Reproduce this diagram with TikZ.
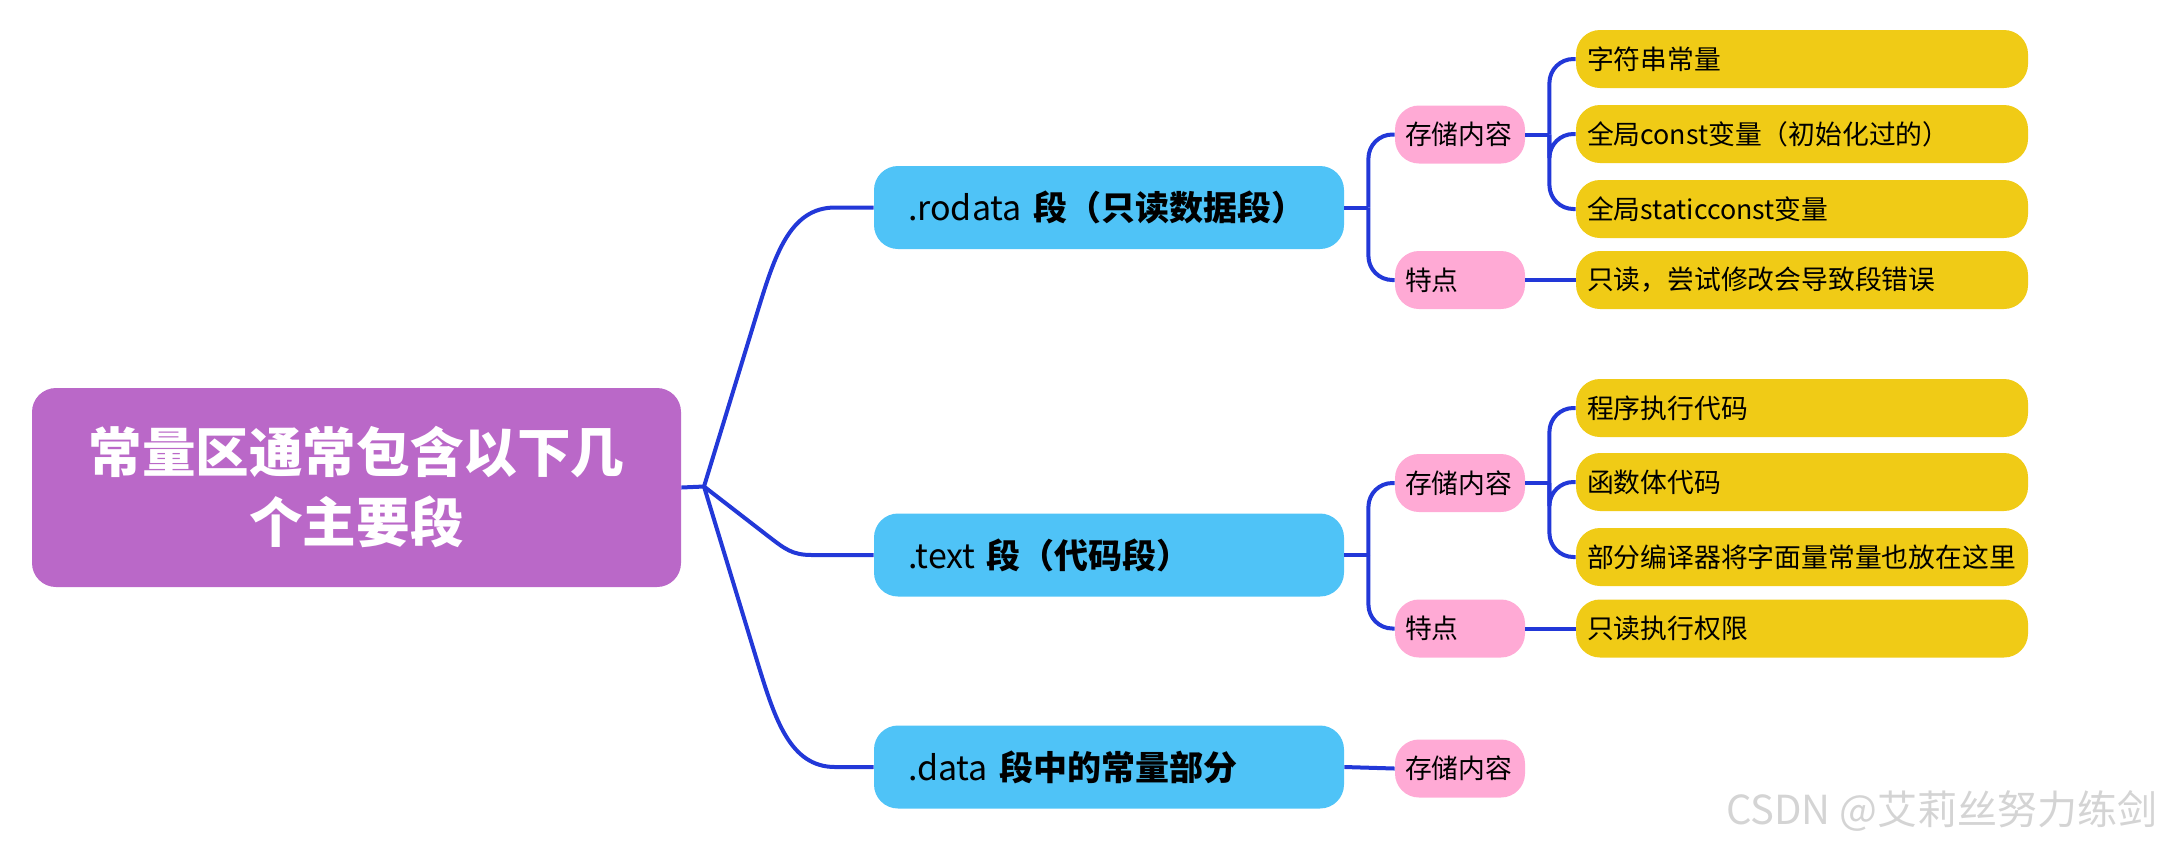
\documentclass[tikz,border=0pt]{standalone}
\usepackage{fontspec}
\setmainfont{Noto Sans CJK SC}
\usetikzlibrary{calc}
\definecolor{rootc}{HTML}{BA68C8}
\definecolor{l1c}{HTML}{4FC3F7}
\definecolor{l2c}{HTML}{FFAAD5}
\definecolor{l3c}{HTML}{F0CB16}
\definecolor{linec}{HTML}{2238D8}
\definecolor{wm}{HTML}{D4D4D4}
\tikzset{
  rootbox/.style={fill=rootc, rounded corners=12, minimum width=324.5pt, minimum height=99.5pt,
    text width=300pt, align=center, text=white, font=\fontsize{26.8}{35}\selectfont\bfseries, inner sep=0pt},
  lonebox/.style={fill=l1c, rounded corners=12, minimum width=235pt, minimum height=41.5pt,
    inner xsep=17pt, text width=201pt, align=left, font=\fontsize{17}{20}\selectfont\bfseries, inner ysep=0pt},
  ltwobox/.style={fill=l2c, rounded corners=12, minimum width=65pt, minimum height=29pt,
    inner xsep=5pt, text width=55pt, align=left, font=\fontsize{13.4}{16}\selectfont, inner ysep=0pt},
  lthreebox/.style={fill=l3c, rounded corners=12, minimum width=226pt, minimum height=29pt,
    inner xsep=5.5pt, text width=215pt, align=left, font=\fontsize{13.4}{16}\selectfont, inner ysep=0pt},
  conn/.style={draw=linec, line width=2pt, rounded corners=12},
}
\newcommand{\branch}[2]{\draw[conn] (#2.west) -| ($(#1.east)+(12pt,0)$);}
\begin{document}
\begin{tikzpicture}[x=0.5pt,y=-0.5pt]
\useasboundingbox (0,0) rectangle (2166,848);
% root
\node[rootbox] (root) at (356.5,487.5) {常量区通常包含以下几\\个主要段};
\coordinate (j) at (704,486.5);
% level 1
\node[lonebox] (ro) at (1109,207.5) {{\mdseries .rodata} 段（只读数据段）};
\node[lonebox] (tx) at (1109,555) {{\mdseries .text} 段（代码段）};
\node[lonebox] (da) at (1109,767) {{\mdseries .data} 段中的常量部分};
% level 2
\node[ltwobox] (ros) at (1460,134.5) {存储内容};
\node[ltwobox] (rot) at (1460,280) {特点};
\node[ltwobox] (txs) at (1460,483) {存储内容};
\node[ltwobox] (txt) at (1460,628.5) {特点};
\node[ltwobox] (das) at (1460,768.5) {存储内容};
% level 3
\node[lthreebox] (r1) at (1802,59) {字符串常量};
\node[lthreebox] (r2) at (1802,134) {全局const变量（初始化过的）};
\node[lthreebox] (r3) at (1802,209) {全局staticconst变量};
\node[lthreebox] (r4) at (1802,280) {只读，尝试修改会导致段错误};
\node[lthreebox] (t1) at (1802,408) {程序执行代码};
\node[lthreebox] (t2) at (1802,482) {函数体代码};
\node[lthreebox] (t3) at (1802,557) {部分编译器将字面量常量也放在这里};
\node[lthreebox] (t4) at (1802,628.5) {只读执行权限};
% watermark
\node[anchor=east, text=wm, font=\fontsize{20}{24}\selectfont, inner sep=0pt] (wmk) at (2158,811) {CSDN @艾莉丝努力练剑};
% root connectors
\draw[conn] (root.east) -- (j);
\draw[conn, rounded corners=0] (j) -- (758,310) .. controls (775,255) and (790,207.5) .. (835,207.5) -- (ro.west);
\draw[conn, rounded corners=0] (j) -- (768,536) .. controls (785,549) and (792,555) .. (812,555) -- (tx.west);
\draw[conn, rounded corners=0] (j) -- (758,664) .. controls (775,719) and (790,767) .. (835,767) -- (da.west);
% level1 -> level2
\draw[conn] (ro.east) -- ++(24,0);
\branch{ro}{ros}
\branch{ro}{rot}
\draw[conn] (tx.east) -- ++(24,0);
\branch{tx}{txs}
\branch{tx}{txt}
\draw[conn] (da.east) -- (das.west);
% level2 -> level3
\draw[conn] (ros.east) -- ++(24,0);
\branch{ros}{r1}
\branch{ros}{r2}
\branch{ros}{r3}
\draw[conn] (rot.east) -- (r4.west);
\draw[conn] (txs.east) -- ++(24,0);
\branch{txs}{t1}
\branch{txs}{t2}
\branch{txs}{t3}
\draw[conn] (txt.east) -- (t4.west);
\end{tikzpicture}
\end{document}
